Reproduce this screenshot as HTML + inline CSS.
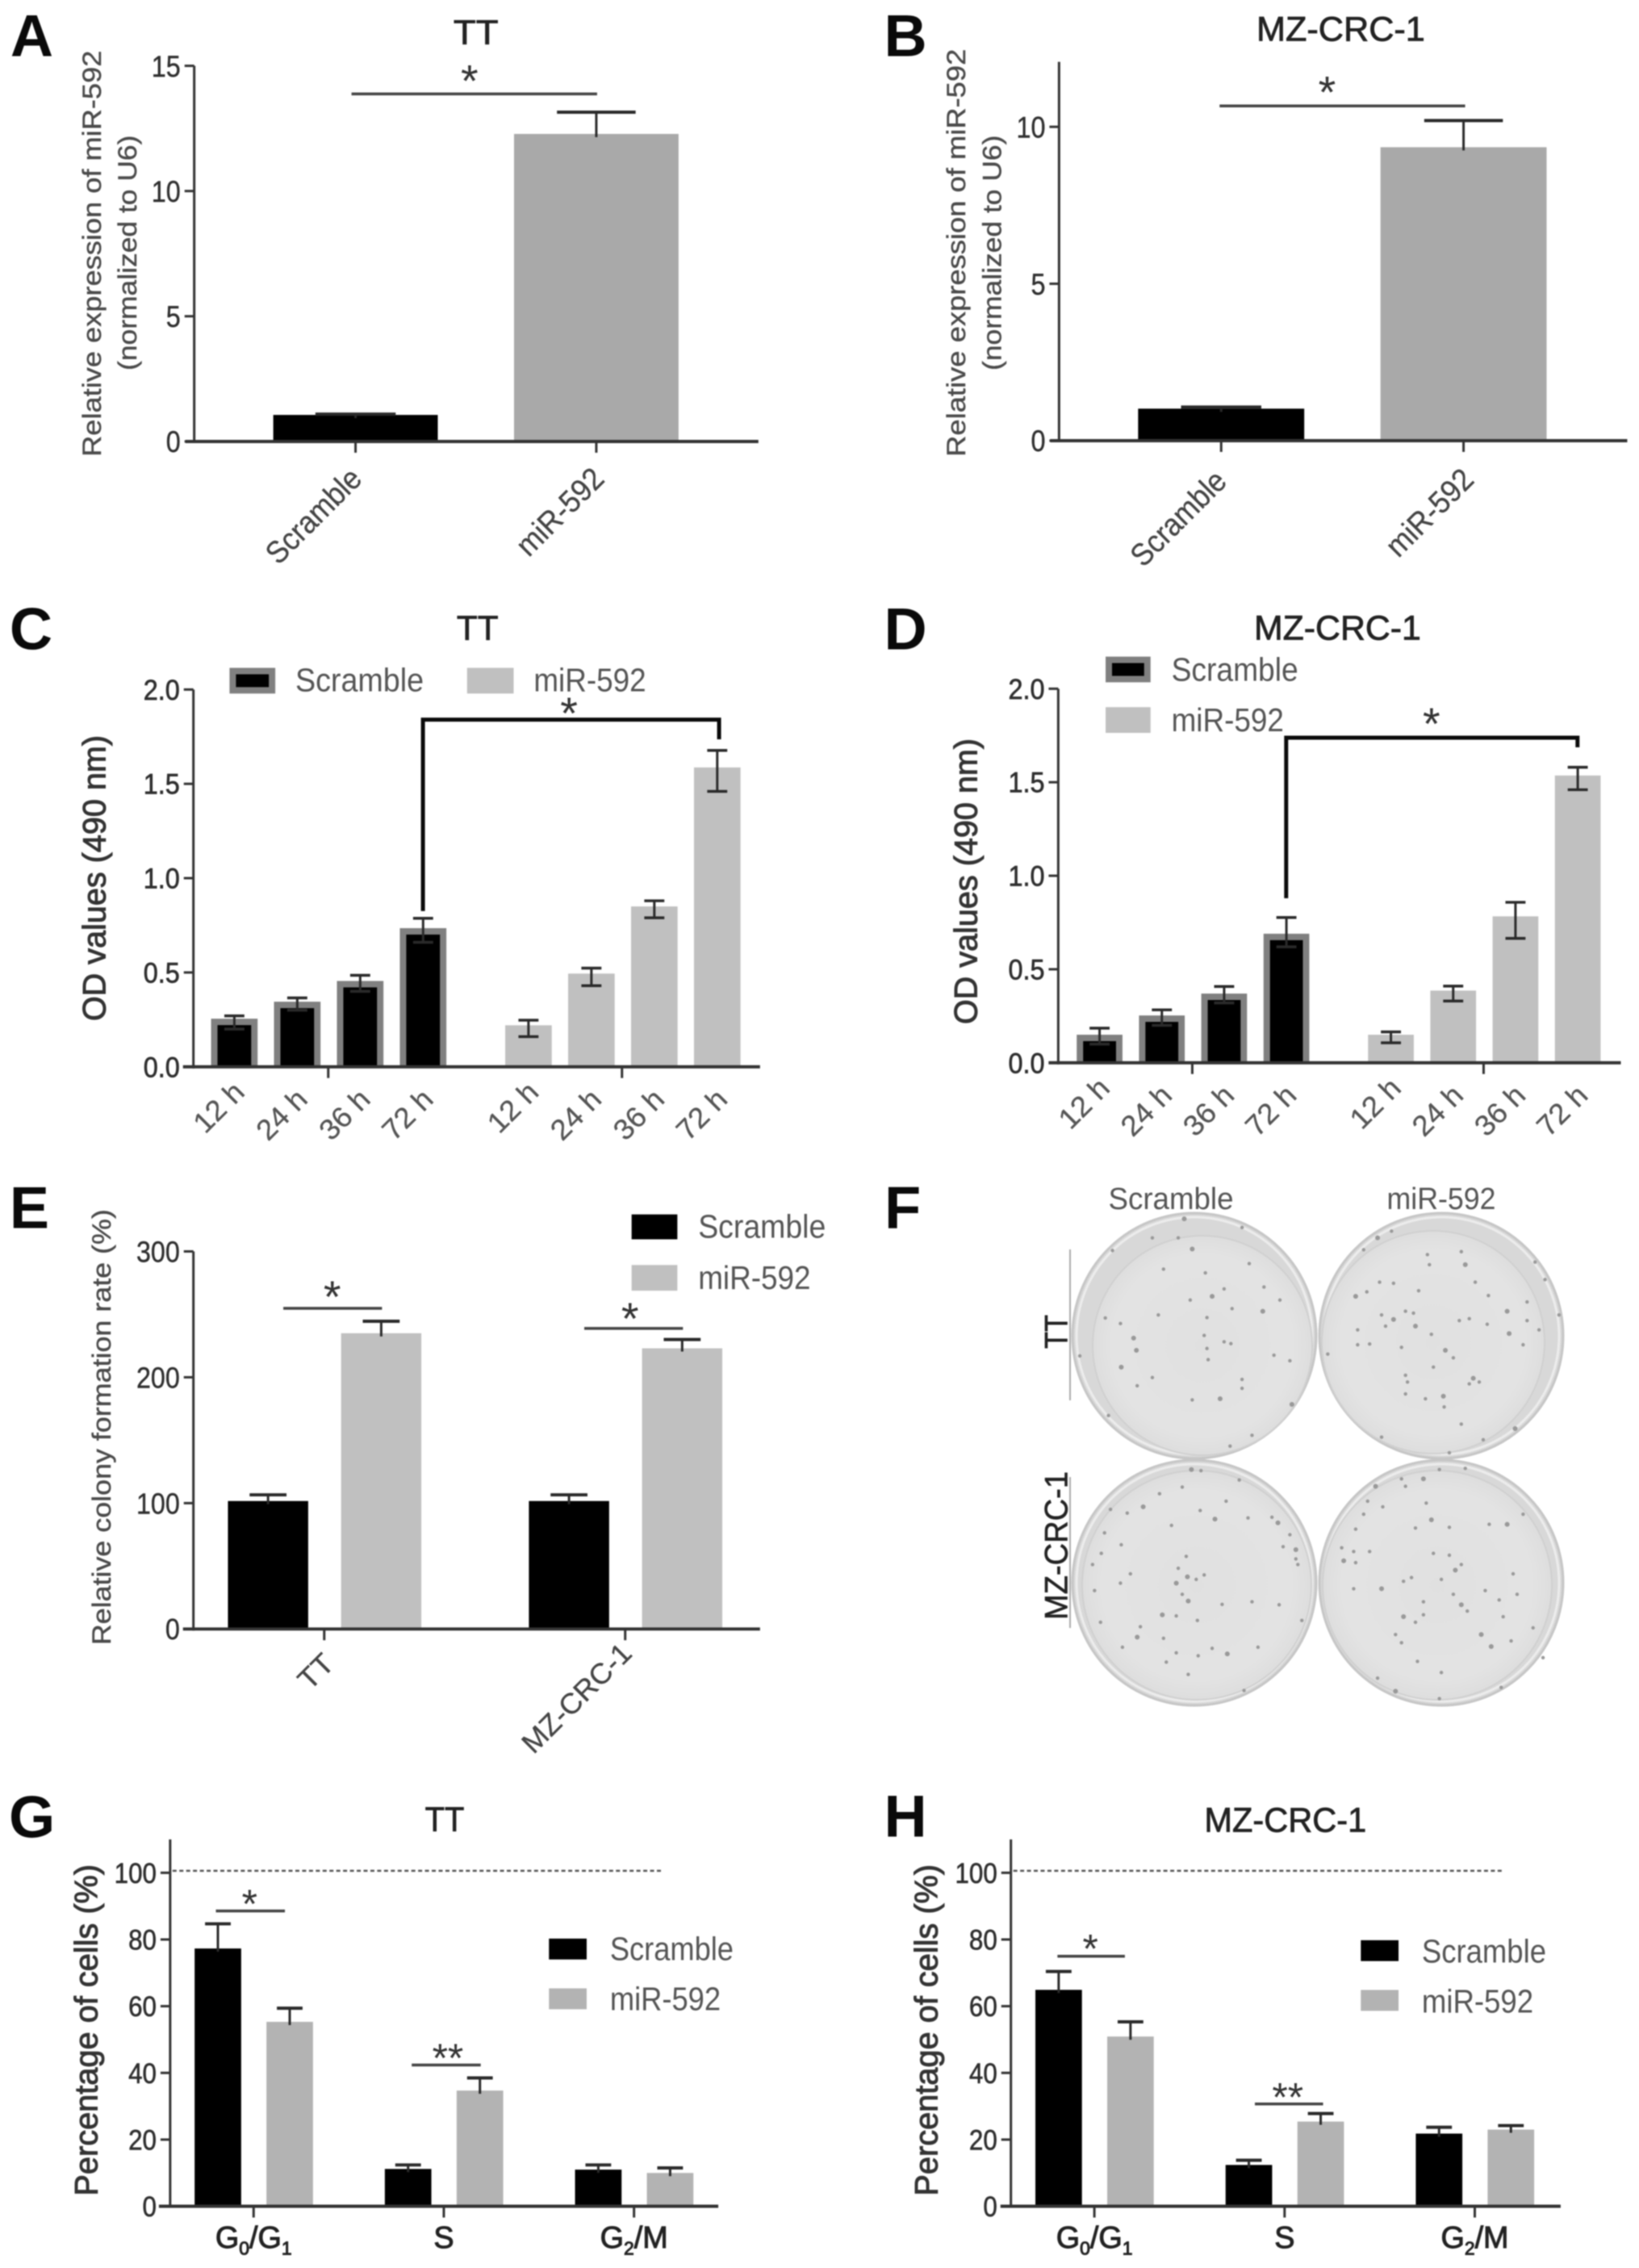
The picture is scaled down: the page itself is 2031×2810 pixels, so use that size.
<!DOCTYPE html>
<html lang="en">
<head>
<meta charset="utf-8">
<title>miR-592 figure panels</title>
<style>
html,body{margin:0;padding:0;background:#fff;}
#figure{display:block;width:2031px;height:2810px;filter:blur(0.7px);font-family:"Liberation Sans",sans-serif;}
.letter{font-size:74px;font-weight:bold;fill:#0a0a0a;}
.title{font-size:43px;fill:#222;stroke:#222;stroke-width:.8;text-anchor:middle;}
.ytitle{font-size:33px;fill:#4a4a4a;stroke:#4a4a4a;stroke-width:.4;text-anchor:middle;}
.ytitle-bold{font-size:40px;fill:#333;stroke:#333;stroke-width:1;text-anchor:middle;}
.legend-text{font-size:41px;fill:#555;}
</style>
</head>
<body>
<svg id="figure" xmlns="http://www.w3.org/2000/svg" width="2031" height="2810" viewBox="0 0 2031 2810">
<rect x="0" y="0" width="2031" height="2810" fill="#fff"/>

<g id="panel-a" transform="scale(.9945)">
<text class="letter" x="13" y="70">A</text>
<text class="title" x="593" y="55" textLength="56" lengthAdjust="spacingAndGlyphs">TT</text>
<text class="ytitle" transform="translate(114,316) rotate(-90)" dy=".36em" textLength="506" lengthAdjust="spacingAndGlyphs">Relative expression of miR-592</text>
<text class="ytitle" transform="translate(158,315) rotate(-90)" dy=".36em" textLength="293" lengthAdjust="spacingAndGlyphs">(normalized to U6)</text>
</g>

<g id="panel-b" transform="translate(5.58,0) scale(.9945)">
<text class="letter" x="1096" y="70">B</text>
<text class="title" x="1665" y="51" textLength="210" lengthAdjust="spacingAndGlyphs">MZ-CRC-1</text>
<text class="ytitle" transform="translate(1185,315) rotate(-90)" dy=".36em" textLength="508" lengthAdjust="spacingAndGlyphs">Relative expression of miR-592</text>
<text class="ytitle" transform="translate(1230,315) rotate(-90)" dy=".36em" textLength="293" lengthAdjust="spacingAndGlyphs">(normalized to U6)</text>
</g>

<g id="panel-c" transform="translate(0,4.015) scale(.9945)">
<text class="letter" x="12" y="805">C</text>
<text class="title" x="595" y="793" textLength="52" lengthAdjust="spacingAndGlyphs">TT</text>
<text class="ytitle-bold" transform="translate(117,1090) rotate(-90)" dy=".36em" textLength="356" lengthAdjust="spacingAndGlyphs">OD values (490 nm)</text>
<g>
<rect x="290" y="832" width="49" height="24" fill="#000" stroke="#808080" stroke-width="8"/>
<text class="legend-text" x="368" y="857" textLength="160" lengthAdjust="spacingAndGlyphs">Scramble</text>
<rect x="582" y="828" width="58" height="32" fill="#c0c0c0"/>
<text class="legend-text" x="665" y="857" textLength="140" lengthAdjust="spacingAndGlyphs">miR-592</text>
</g>
</g>

<g id="panel-d" transform="translate(5.58,4.015) scale(.9945)">
<text class="letter" x="1096" y="805">D</text>
<text class="title" x="1661" y="793" textLength="208" lengthAdjust="spacingAndGlyphs">MZ-CRC-1</text>
<text class="ytitle-bold" transform="translate(1197,1094) rotate(-90)" dy=".36em" textLength="356" lengthAdjust="spacingAndGlyphs">OD values (490 nm)</text>
<g>
<rect x="1376" y="818" width="48" height="24" fill="#000" stroke="#808080" stroke-width="8"/>
<text class="legend-text" x="1454" y="844" textLength="158" lengthAdjust="spacingAndGlyphs">Scramble</text>
<rect x="1372" y="877" width="56" height="32" fill="#c0c0c0"/>
<text class="legend-text" x="1454" y="907" textLength="140" lengthAdjust="spacingAndGlyphs">miR-592</text>
</g>
</g>

<g id="panel-e" transform="translate(0,7.92) scale(.9945)">
<text class="letter" x="12" y="1522">E</text>
<text class="ytitle" transform="translate(126,1770) rotate(-90)" dy=".36em" textLength="543" lengthAdjust="spacingAndGlyphs">Relative colony formation rate (%)</text>
<g>
<rect x="787" y="1505" width="57" height="31" fill="#000"/>
<text class="legend-text" x="870" y="1534" textLength="159" lengthAdjust="spacingAndGlyphs">Scramble</text>
<rect x="787" y="1568" width="57" height="32" fill="#c0c0c0"/>
<text class="legend-text" x="870" y="1598" textLength="140" lengthAdjust="spacingAndGlyphs">miR-592</text>
</g>
</g>

<g>
<text class="letter" x="1096" y="1522">F</text>
<defs>
<radialGradient id="plateGlow" cx="50%" cy="50%" r="55%">
<stop offset="0" stop-color="#e0e0e0"/>
<stop offset="0.75" stop-color="#e3e3e3"/>
<stop offset="1" stop-color="#dadada"/>
</radialGradient>
</defs>
<g id="plates"></g>
<text x="1451" y="1498" text-anchor="middle" font-size="38" fill="#555" textLength="155" lengthAdjust="spacingAndGlyphs">Scramble</text>
<text x="1786" y="1498" text-anchor="middle" font-size="38" fill="#555" textLength="135" lengthAdjust="spacingAndGlyphs">miR-592</text>
<text transform="translate(1308,1650) rotate(-90)" dy=".36em" text-anchor="middle" font-size="40" fill="#222" stroke="#222" stroke-width=".6" textLength="42" lengthAdjust="spacingAndGlyphs">TT</text>
<text transform="translate(1308,1915) rotate(-90)" dy=".36em" text-anchor="middle" font-size="40" fill="#222" stroke="#222" stroke-width=".6" textLength="184" lengthAdjust="spacingAndGlyphs">MZ-CRC-1</text>
<line x1="1326" y1="1548" x2="1326" y2="1735" stroke="#aaa" stroke-width="2"/>
<line x1="1326" y1="1830" x2="1326" y2="2017" stroke="#aaa" stroke-width="2"/>
</g>

<g id="panel-g" transform="translate(0,12.1) scale(.9945)">
<text class="letter" x="11" y="2277">G</text>
<text class="title" x="554" y="2269" textLength="49" lengthAdjust="spacingAndGlyphs">TT</text>
<text class="ytitle-bold" transform="translate(107,2517) rotate(-90)" dy=".36em" textLength="413" lengthAdjust="spacingAndGlyphs">Percentage of cells (%)</text>
<g>
<rect x="684" y="2403" width="47" height="26" fill="#000"/>
<text class="legend-text" x="760" y="2430" textLength="154" lengthAdjust="spacingAndGlyphs">Scramble</text>
<rect x="684" y="2465" width="47" height="26" fill="#b3b3b3"/>
<text class="legend-text" x="760" y="2492" textLength="138" lengthAdjust="spacingAndGlyphs">miR-592</text>
</g>
</g>

<g id="panel-h" transform="translate(5.58,12.1) scale(.9945)">
<text class="letter" x="1096" y="2276">H</text>
<text class="title" x="1596" y="2270" textLength="202" lengthAdjust="spacingAndGlyphs">MZ-CRC-1</text>
<text class="ytitle-bold" transform="translate(1148,2517) rotate(-90)" dy=".36em" textLength="413" lengthAdjust="spacingAndGlyphs">Percentage of cells (%)</text>
<g>
<rect x="1690" y="2405" width="47" height="26" fill="#000"/>
<text class="legend-text" x="1766" y="2433" textLength="155" lengthAdjust="spacingAndGlyphs">Scramble</text>
<rect x="1690" y="2467" width="47" height="26" fill="#b3b3b3"/>
<text class="legend-text" x="1766" y="2495" textLength="139" lengthAdjust="spacingAndGlyphs">miR-592</text>
</g>
</g>
</svg>

<script>
// Panel A data
const aCategories = ['Scramble', 'miR-592'];
const aValues = [1.06, 12.28];
const aErrHigh = [1.09, 13.15];
const aYTicks = [0, 5, 10, 15];
// Panel B data
const bCategories = ['Scramble', 'miR-592'];
const bValues = [1.02, 9.35];
const bErrHigh = [1.07, 10.2];
const bYTicks = [0, 5, 10];
// Panel C data
const timeLabels = ['12 h', '24 h', '36 h', '72 h'];
const odYTicks = [0.0, 0.5, 1.0, 1.5, 2.0];
const cScramble = [0.255, 0.345, 0.455, 0.735];
const cScrambleHigh = [0.27, 0.365, 0.485, 0.787];
const cScrambleLow = [0.2, 0.3, 0.4, 0.66];
const cMir = [0.22, 0.494, 0.85, 1.587];
const cMirHigh = [0.247, 0.523, 0.88, 1.677];
const cMirLow = [0.16, 0.43, 0.79, 1.46];
// Panel D data
const dScramble = [0.15, 0.253, 0.37, 0.69];
const dScrambleHigh = [0.185, 0.283, 0.408, 0.777];
const dScrambleLow = [0.1, 0.2, 0.32, 0.62];
const dMir = [0.15, 0.386, 0.783, 1.536];
const dMirHigh = [0.165, 0.41, 0.858, 1.58];
const dMirLow = [0.107, 0.33, 0.665, 1.46];
// Panel E data
const eCategories = ['TT', 'MZ-CRC-1'];
const eYTicks = [0, 100, 200, 300];
const eScramble = [101.7, 101.7];
const eScrambleHigh = [106.6, 106.6];
const eMir = [235, 223];
const eMirHigh = [244.5, 230];
// Panel G data
const phaseLabels = ['G0/G1', 'S', 'G2/M'];
const pctYTicks = [0, 20, 40, 60, 80, 100];
const gScramble = [77.3, 11.2, 11];
const gScrambleHigh = [84.7, 12.4, 12.4];
const gMir = [55.3, 34.7, 10];
const gMirHigh = [59.4, 38.5, 11.5];
// Panel H data
const hScramble = [64.9, 12.4, 21.8];
const hScrambleHigh = [70.4, 13.8, 23.7];
const hMir = [50.9, 25.4, 23];
const hMirHigh = [55.3, 27.8, 24.2];
// Panel F: colony spots (crop coordinates)
const plateTL = [[420,152],[340,203],[405,203],[565,175],[240,237],[440,233],[368,287],[473,297],[583,272],[520,340],[490,360],[435,370],[620,335],[660,370],[540,393],[617,400],[477,417],[355,410],[222,418],[260,433],[293,472],[470,465],[520,482],[537,487],[477,500],[300,505],[480,530],[645,518],[685,533],[158,520],[262,550],[565,583],[565,607],[302,600],[440,638],[510,635],[340,578],[590,733],[535,762],[230,680],[690,650]];
const plateTR = [[905,203],[940,185],[870,235],[1030,248],[1115,240],[1125,275],[1035,275],[910,322],[945,325],[878,348],[850,360],[1008,345],[1183,358],[1150,322],[1280,375],[1230,400],[1300,268],[975,400],[995,405],[915,410],[945,422],[855,450],[855,490],[885,488],[925,440],[1000,440],[1040,462],[1135,420],[1110,425],[1180,435],[1235,460],[1280,425],[1310,450],[1270,490],[965,497],[1075,505],[1095,525],[1045,550],[975,572],[980,590],[1145,580],[1135,595],[1160,590],[975,622],[1025,635],[1070,628],[1072,657],[1115,703],[915,738],[1170,745],[1250,715],[780,515],[1085,780],[1325,315],[1360,410]];
const plateBL = [[438,825],[462,828],[558,853],[415,872],[358,890],[317,925],[277,942],[235,932],[460,935],[525,910],[497,958],[388,975],[580,955],[640,953],[685,1000],[655,968],[220,995],[262,1027],[212,1050],[668,1032],[700,1040],[700,1065],[705,1080],[190,1080],[425,1058],[428,1113],[405,1090],[450,1120],[470,1108],[285,1105],[400,1130],[415,1160],[260,1130],[195,1150],[515,1187],[430,1178],[590,1180],[658,1188],[400,1218],[453,1230],[365,1215],[210,1235],[310,1247],[715,1230],[368,1278],[302,1275],[605,1302],[265,1302],[400,1317],[455,1325],[528,1320],[375,1342],[430,1375],[570,1418],[490,1305]];
const plateBR = [[1020,850],[1060,825],[1125,822],[965,850],[975,870],[900,870],[880,910],[918,925],[1027,915],[870,945],[1040,960],[850,985],[1000,982],[1085,980],[1185,972],[1230,972],[1270,945],[815,1035],[845,1045],[885,1045],[820,1070],[850,1075],[1045,1050],[1085,1055],[1115,1080],[1100,1095],[990,1115],[970,1125],[1065,1120],[1245,1105],[915,1145],[845,1145],[1020,1180],[1095,1160],[1175,1150],[1115,1188],[1210,1175],[1255,1160],[1130,1205],[1220,1220],[970,1220],[1020,1215],[1000,1235],[950,1268],[965,1290],[1165,1268],[1240,1285],[1295,1250],[1065,1370],[905,1385],[950,1420],[1060,1440],[1215,1410],[1005,1340],[1320,1330],[1190,1300]];

const NS = 'http://www.w3.org/2000/svg';
const AXIS = '#333';

function add(parent, tag, attrs, name) {
  const el = document.createElementNS(NS, tag);
  for (const k in attrs) el.setAttribute(k, attrs[k]);
  
  
  parent.appendChild(el);
  return el;
}
function panelGroup(id, name) {
  return add(document.getElementById(id), 'g', {}, name);
}
function line(p, x1, y1, x2, y2, w, color, name) {
  return add(p, 'line', {x1, y1, x2, y2, stroke: color || AXIS, 'stroke-width': w}, name);
}
function linear(baseY, pxPerUnit) { return v => baseY - v * pxPerUnit; }

function yAxis(p, o) {
  line(p, o.x, o.top, o.x, o.baseY + 2, o.w || 3, AXIS, 'y-axis-line');
  line(p, o.left, o.baseY, o.right, o.baseY, 4, AXIS, 'x-axis-line');
  o.ticks.forEach(t => {
    line(p, o.x - 12, o.y(t), o.x, o.y(t), 3, AXIS, 'y-axis-tick');
    const el = add(p, 'text', {
      transform: 'translate(' + (o.x - 17) + ',' + o.y(t) + ') scale(' + o.sx + ',1)',
      dy: '.36em', 'text-anchor': 'end', 'font-size': o.size, fill: '#2e2e2e',
      stroke: '#2e2e2e', 'stroke-width': o.strokeW || 0.4
    }, 'y-axis-tick-label');
    el.textContent = o.fmt ? o.fmt(t) : String(t);
  });
}
function xTick(p, x, baseY) { line(p, x, baseY, x, baseY + 14, 3, AXIS, 'x-axis-tick'); }
function bar(p, cx, w, v, y, baseY, color, name) {
  add(p, 'rect', {x: cx - w / 2, y: y(v), width: w, height: baseY - y(v), fill: color}, name);
}
function borderedBar(p, cx, w, v, y, baseY, name) {
  add(p, 'rect', {x: cx - w / 2, y: y(v), width: w, height: baseY - y(v), fill: '#808080'}, name);
  const inY = y(v) + 8;
  add(p, 'rect', {x: cx - w / 2 + 8, y: inY, width: w - 16, height: Math.max(0, baseY - inY), fill: '#000'}, name + '-core');
}
function errUp(p, cx, v, hi, y, capW) {
  line(p, cx, y(hi), cx, y(v) + 4, 3, '#2a2a2a', 'error-bar-stem');
  line(p, cx - capW / 2, y(hi), cx + capW / 2, y(hi), 4, '#2a2a2a', 'error-bar-cap');
}
function errBoth(p, cx, hi, lo, y, capW) {
  line(p, cx, y(hi), cx, y(lo), 3, '#2a2a2a', 'error-bar-stem');
  line(p, cx - capW / 2, y(hi), cx + capW / 2, y(hi), 3.5, '#2a2a2a', 'error-bar-cap');
  line(p, cx - capW / 2, y(lo), cx + capW / 2, y(lo), 3.5, '#2a2a2a', 'error-bar-cap');
}
function star(p, cx, cy, str, size) {
  const el = add(p, 'text', {x: cx, y: cy + size * 0.5, 'text-anchor': 'middle', 'font-size': size, fill: '#333'}, 'significance-star');
  el.textContent = str;
}
function sigLine(p, x1, x2, yy, cxStar, cyStar, str, size) {
  line(p, x1, yy, x2, yy, 3.5, '#444', 'significance-line');
  star(p, cxStar, cyStar, str, size);
}
function bracket(p, xL, yL, xR, yR, yTop) {
  add(p, 'path', {d: 'M' + xL + ' ' + yL + 'V' + yTop + 'H' + xR + 'V' + yR, fill: 'none', stroke: '#0a0a0a', 'stroke-width': 5}, 'significance-bracket');
}
function rotLabel(p, cx, cy, str, size, len, fill) {
  const el = add(p, 'text', {
    transform: 'translate(' + cx + ',' + cy + ') rotate(-45)',
    dy: '.36em', 'text-anchor': 'middle', 'font-size': size, fill: fill || '#444',
    stroke: fill || '#444', 'stroke-width': 0.3,
    textLength: len, lengthAdjust: 'spacingAndGlyphs'
  }, 'x-axis-tick-label');
  el.textContent = str;
}
function phaseLabel(p, cx, yy, str) {
  const el = add(p, 'text', {x: cx, y: yy, 'text-anchor': 'middle', 'font-size': 38, fill: '#222', stroke: '#222', 'stroke-width': 1}, 'x-axis-tick-label');
  str.split(/(\d)/).forEach((part, i) => {
    if (!part) return;
    const t = document.createElementNS(NS, 'tspan');
    if (i % 2) {
      t.setAttribute('font-size', '23');
      t.setAttribute('dy', '9');
    } else if (i > 0) {
      t.setAttribute('dy', '-9');
    }
    t.textContent = part;
    el.appendChild(t);
  });
}

// Panel A
(function () {
  const g = panelGroup('panel-a', 'panel-a-bar-chart');
  const baseY = 550, y = linear(baseY, 31.2), w = 205, cx = i => 443 + i * 300;
  aValues.forEach((v, i) => bar(g, cx(i), w, v, y, baseY, i ? '#a9a9a9' : '#000', 'bar-' + aCategories[i].toLowerCase()));
  aValues.forEach((v, i) => errUp(g, cx(i), v, aErrHigh[i], y, i ? 98 : 100));
  yAxis(g, {x: 242, top: y(15), baseY, left: 231, right: 945, y, ticks: aYTicks, size: 37, sx: 0.88});
  aCategories.forEach((c, i) => xTick(g, cx(i), baseY));
  rotLabel(g, 390, 642, aCategories[0], 39, 150);
  rotLabel(g, 697, 637, aCategories[1], 39, 136);
  sigLine(g, 438, 744, 117, 585, 92, '*', 56);
})();

// Panel B
(function () {
  const g = panelGroup('panel-b', 'panel-b-bar-chart');
  const baseY = 549, y = linear(baseY, 39.1), w = 207, cx = i => 1516 + i * 302;
  bValues.forEach((v, i) => bar(g, cx(i), w, v, y, baseY, i ? '#a9a9a9' : '#000', 'bar-' + bCategories[i].toLowerCase()));
  bValues.forEach((v, i) => errUp(g, cx(i), v, bErrHigh[i], y, i ? 98 : 100));
  yAxis(g, {x: 1314, top: 77, baseY, left: 1303, right: 2022, y, ticks: bYTicks, size: 37, sx: 0.88});
  bCategories.forEach((c, i) => xTick(g, cx(i), baseY));
  rotLabel(g, 1462, 645, bCategories[0], 39, 150);
  rotLabel(g, 1775, 638, bCategories[1], 39, 136);
  sigLine(g, 1514, 1820, 132, 1648, 106, '*', 56);
})();

function odPanel(id, name, o) {
  const g = panelGroup(id, name);
  const y = linear(o.baseY, o.unit), w = o.barW;
  const cxA = i => o.startA + i * o.step, cxB = i => o.startB + i * o.step;
  o.scramble.forEach((v, i) => borderedBar(g, cxA(i), w, v, y, o.baseY, 'bar-scramble-' + timeLabels[i].replace(' ', '')));
  o.mir.forEach((v, i) => bar(g, cxB(i), w, v, y, o.baseY, '#c0c0c0', 'bar-mir-592-' + timeLabels[i].replace(' ', '')));
  o.scramble.forEach((v, i) => errBoth(g, cxA(i), o.scrambleHigh[i], o.scrambleLow[i], y, 25));
  o.mir.forEach((v, i) => errBoth(g, cxB(i), o.mirHigh[i], o.mirLow[i], y, 25));
  yAxis(g, {x: o.axisX, top: y(2), baseY: o.baseY, left: o.left, right: o.right, y, ticks: odYTicks, size: 35, sx: 0.93, fmt: t => t.toFixed(1), strokeW: 0.7});
  xTick(g, o.tickA, o.baseY);
  xTick(g, o.tickB, o.baseY);
  timeLabels.forEach((t, i) => {
    rotLabel(g, cxA(i) + o.labelDx, o.baseY + o.labelDy + (i ? 9 : 0), t, 36, 72, '#555');
    rotLabel(g, cxB(i) + o.labelDx, o.baseY + o.labelDy + (i ? 9 : 0), t, 36, 72, '#555');
  });
  bracket(g, o.bxL, o.byL, o.bxR, o.byR, o.bTop);
  star(g, o.starX, o.starY, '*', 56);
}
odPanel('panel-c', 'panel-c-bar-chart', {
  baseY: 1325, unit: 235, barW: 58, startA: 292, startB: 658.5, step: 78.4,
  scramble: cScramble, scrambleHigh: cScrambleHigh, scrambleLow: cScrambleLow,
  mir: cMir, mirHigh: cMirHigh, mirLow: cMirLow,
  axisX: 241, left: 228, right: 947, tickA: 409, tickB: 775, labelDx: -20, labelDy: 50,
  bxL: 527, byL: 1131, bxR: 896, byR: 917, bTop: 892.5, starX: 709, starY: 876
});
odPanel('panel-d', 'panel-d-bar-chart', {
  baseY: 1320, unit: 233, barW: 57, startA: 1364.5, startB: 1727.5, step: 77.6,
  scramble: dScramble, scrambleHigh: dScrambleHigh, scrambleLow: dScrambleLow,
  mir: dMir, mirHigh: dMirHigh, mirLow: dMirLow,
  axisX: 1313, left: 1301, right: 2014, tickA: 1480, tickB: 1843, labelDx: -20, labelDy: 50,
  bxL: 1597, byL: 1115, bxR: 1960, byR: 927, bTop: 915, starX: 1778, starY: 889
});

// Panel E
(function () {
  const g = panelGroup('panel-e', 'panel-e-bar-chart');
  const baseY = 2021.5, y = linear(baseY, 1.568), w = 100, groupX = i => 404 + i * 375;
  eCategories.forEach((c, i) => {
    bar(g, groupX(i) - 70, w, eScramble[i], y, baseY, '#000', 'bar-scramble-' + c.toLowerCase());
    bar(g, groupX(i) + 71, w, eMir[i], y, baseY, '#c0c0c0', 'bar-mir-592-' + c.toLowerCase());
    errUp(g, groupX(i) - 70, eScramble[i], eScrambleHigh[i], y, 46);
    errUp(g, groupX(i) + 71, eMir[i], eMirHigh[i], y, 46);
    xTick(g, groupX(i), baseY);
  });
  yAxis(g, {x: 241, top: y(300), baseY, left: 228, right: 947, y, ticks: eYTicks, size: 36, sx: 0.9});
  rotLabel(g, 393, 2074, eCategories[0], 36, 46);
  rotLabel(g, 718, 2107, eCategories[1], 36, 176);
  sigLine(g, 353, 476, 1622, 414, 1599, '*', 56);
  sigLine(g, 728, 851, 1647, 785, 1626, '*', 56);
})();

function pctPanel(id, name, o) {
  const g = panelGroup(id, name);
  const baseY = 2736.5, y = linear(baseY, 4.155), w = 58;
  const groupX = i => o.start + i * 237;
  phaseLabels.forEach((c, i) => {
    const k = c.replace('/', '-').toLowerCase();
    bar(g, groupX(i) - 44.5, w, o.scramble[i], y, baseY, '#000', 'bar-scramble-' + k);
    bar(g, groupX(i) + 45, w, o.mir[i], y, baseY, '#b3b3b3', 'bar-mir-592-' + k);
    errUp(g, groupX(i) - 44.5, o.scramble[i], o.scrambleHigh[i], y, 32);
    errUp(g, groupX(i) + 45, o.mir[i], o.mirHigh[i], y, 32);
    xTick(g, groupX(i), baseY);
    phaseLabel(g, groupX(i), 2788, c);
  });
  yAxis(g, {x: o.axisX, top: y(110), baseY, left: o.left, right: o.right, y, ticks: pctYTicks, size: 35, sx: 0.9, strokeW: 0.6});
  add(g, 'line', {x1: o.dashL, x2: o.dashR, y1: y(100) - 2.5, y2: y(100) - 2.5, stroke: '#555', 'stroke-width': 2.5, 'stroke-dasharray': '5 3.5'}, 'reference-line-100-percent');
  sigLine(g, o.sig1[0], o.sig1[1], o.sig1[2], o.sig1[3], o.sig1[4], '*', 50);
  sigLine(g, o.sig2[0], o.sig2[1], o.sig2[2], o.sig2[3], o.sig2[4], '**', 50);
}
pctPanel('panel-g', 'panel-g-bar-chart', {
  start: 316, scramble: gScramble, scrambleHigh: gScrambleHigh, mir: gMir, mirHigh: gMirHigh,
  axisX: 212, left: 198, right: 895, dashL: 215, dashR: 826,
  sig1: [269, 355, 2368.5, 311, 2352], sig2: [513, 599, 2560.5, 558, 2544]
});
pctPanel('panel-h', 'panel-h-bar-chart', {
  start: 1358, scramble: hScramble, scrambleHigh: hScrambleHigh, mir: hMir, mirHigh: hMirHigh,
  axisX: 1254, left: 1241, right: 1939, dashL: 1257, dashR: 1869,
  sig1: [1312, 1396, 2425, 1353, 2408], sig2: [1558, 1643, 2609, 1599, 2593]
});

// Panel F plates
(function () {
  const g = document.getElementById('plates');
  const fx = x => 1260 + x * 0.494, fy = y => 1440 + y * 0.4615;
  function plate(name, cx, cy, dx, dy, inner, spots) {
    const p = add(g, 'g', {}, name);
    add(p, 'ellipse', {cx, cy, rx: 151, ry: 152, fill: '#d8d8d8', stroke: '#c6c6c6', 'stroke-width': 3}, 'plate-rim');
    add(p, 'ellipse', {cx, cy, rx: 146, ry: 147, fill: 'none', stroke: '#ececec', 'stroke-width': 3}, 'plate-rim-highlight');
    add(p, 'ellipse', {cx: cx + dx, cy: cy + dy, rx: inner, ry: inner, fill: 'url(#plateGlow)', stroke: '#d0d0d0', 'stroke-width': 2}, 'plate-agar');
    spots.forEach((s, i) => add(p, 'circle', {cx: fx(s[0]), cy: fy(s[1]), r: i % 5 === 0 ? 3 : 2.2, fill: '#999'}, 'colony'));
  }
  plate('plate-tt-scramble', 1480, 1655, 10, 12, 136, plateTL);
  plate('plate-tt-mir-592', 1786, 1655, -10, 8, 138, plateTR);
  plate('plate-mz-crc-1-scramble', 1480, 1961, 3, 3, 142, plateBL);
  plate('plate-mz-crc-1-mir-592', 1786, 1961, -5, 3, 142, plateBR);
})();
</script>
</body>
</html>
